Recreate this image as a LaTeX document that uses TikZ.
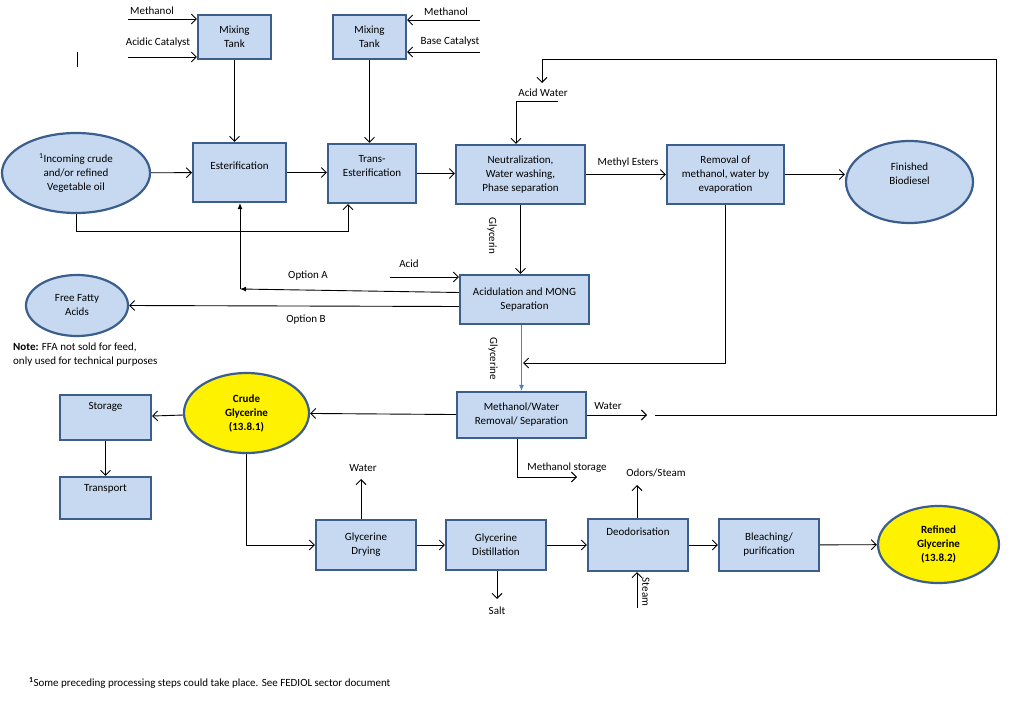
\documentclass[tikz,border=0pt]{standalone}
\usepackage{fontspec}
\setmainfont{Carlito}
\usetikzlibrary{arrows.meta, positioning, shapes.geometric}
\definecolor{boxfill}{HTML}{C6D9F1}
\definecolor{boxline}{HTML}{3B5E8C}
\definecolor{glyblue}{HTML}{4F81BD}

\begin{document}
\begin{tikzpicture}[
    x=1pt, y=-1pt,
    font=\fontsize{11}{14}\selectfont,
    box/.style={
      rectangle, draw=boxline, fill=boxfill,
      line width=2.2pt, align=center, inner sep=2pt
    },
    oval/.style={
      ellipse, draw=boxline, fill=boxfill,
      line width=2.2pt, align=center, inner sep=0pt
    },
    product/.style={oval, fill=yellow, font=\fontsize{11}{14}\selectfont\bfseries},
    lbl/.style={align=center, inner sep=1pt},
    flow/.style={line width=0.9pt, -{Straight Barb[length=5pt,width=10pt]}},
    plain/.style={line width=0.9pt},
    opt/.style={line width=0.9pt, -{Latex[length=6pt,width=5pt]}},
    gly/.style={line width=0.9pt, draw=glyblue, -{Latex[length=6pt,width=5pt]}}
  ]
    \fill[white] (0,0) rectangle (1024,703);
    \useasboundingbox (0,0) rectangle (1024,703);

    % mixing tanks
    \node[box, minimum width=73pt, minimum height=44pt] (mix1) at (234.5,37) {Mixing\\Tank};
    \node[box, minimum width=73pt, minimum height=44pt] (mix2) at (369.5,37) {Mixing\\Tank};

    % biodiesel line
    \node[oval, minimum width=148pt, minimum height=80pt] (oil) at (76,173) {\textsuperscript{1}Incoming crude\\and/or refined\\Vegetable oil};
    \node[box, minimum width=93pt, minimum height=59pt] (ester) at (239.5,172.5) {};
    \node[lbl] (ester-t) at (239.5,166) {Esterification};
    \node[box, minimum width=88pt, minimum height=59pt] (trans) at (372,173.5) {};
    \node[lbl] (trans-t) at (372,166) {Trans-\\Esterification};
    \node[box, minimum width=129pt, minimum height=59pt] (neut) at (520.5,174.5) {Neutralization,\\Water washing,\\Phase separation};
    \node[box, minimum width=117pt, minimum height=59pt] (evap) at (725.5,174.5) {Removal of\\methanol, water by\\evaporation};
    \node[oval, minimum width=127pt, minimum height=82pt] (diesel) at (909.5,182) {};
    \node[lbl] (diesel-t) at (909.5,173.5) {Finished\\Biodiesel};

    % glycerine side
    \node[box, minimum width=129pt, minimum height=49pt] (acidul) at (524.5,299.5) {Acidulation and MONG\\Separation};
    \node[oval, minimum width=102pt, minimum height=61pt] (ffa) at (77,305.5) {Free Fatty\\Acids};
    \node[box, minimum width=129pt, minimum height=46pt] (mwr) at (521.5,415) {Methanol/Water\\Removal/ Separation};
    \node[product, minimum width=125pt, minimum height=80pt] (crude) at (246.5,413) {Crude\\Glycerine\\(13.8.1)};
    \node[box, minimum width=91pt, minimum height=45pt] (store) at (105.5,417.5) {};
    \node[lbl] (store-t) at (105.5,407) {Storage};
    \node[box, minimum width=91pt, minimum height=42pt] (tport) at (105.5,498) {};
    \node[lbl] (tport-t) at (105.5,489) {Transport};

    % refining line
    \node[box, minimum width=100pt, minimum height=50pt] (dry) at (366,545) {Glycerine\\Drying};
    \node[box, minimum width=100pt, minimum height=50pt] (distil) at (496,545) {Glycerine\\Distillation};
    \node[box, minimum width=100pt, minimum height=52pt] (deod) at (638,545) {};
    \node[lbl] (deod-t) at (638,532) {Deodorisation};
    \node[box, minimum width=100pt, minimum height=52pt] (bleach) at (769,545) {Bleaching/\\purification};
    \node[product, minimum width=121pt, minimum height=77pt] (refined) at (938.5,544.5) {Refined\\Glycerine\\(13.8.2)};

    % feeds to the mixing tanks
    \coordinate (meth1) at (128,19);
    \coordinate (cat1)  at (128,57);
    \coordinate (meth2) at (480,20);
    \coordinate (cat2)  at (480,52);
    \draw[flow] (meth1) -- (meth1 -| mix1.west);
    \draw[flow] (cat1)  -- (cat1 -| mix1.west);
    \draw[flow] (meth2) -- (meth2 -| mix2.east);
    \draw[flow] (cat2)  -- (cat2 -| mix2.east);
    \node[lbl] (meth1-l) at (152,11) {Methanol};
    \node[lbl] (cat1-l)  at (158,43) {Acidic Catalyst};
    \node[lbl] (meth2-l) at (446,12) {Methanol};
    \node[lbl] (cat2-l)  at (450,42) {Base Catalyst};
    \draw[plain] (77,52) -- (77,67);

    \draw[flow] (mix1.south) -- (mix1.south |- ester.north);
    \draw[flow] (mix2.south) -- (mix2.south |- trans.north);

    % main flow
    \draw[flow] (oil) -- (ester);
    \draw[flow] (ester.east) -- (ester.east -| trans.west);
    \draw[flow] (trans.east) -- (trans.east -| neut.west);
    \draw[flow] (neut.east) -- (neut.east -| evap.west);
    \node[lbl] (me-l) at (628,163) {Methyl Esters};
    \draw[flow] (evap.east) -- (evap.east -| diesel.west);
    \coordinate (oilret) at (348,231);
    \draw[flow] (oil.south) |- (oilret) -- (oilret |- trans.south);

    % acid water loop
    \coordinate (wout) at (647,415);
    \coordinate (wret) at (655,415);
    \coordinate (wtop) at (996,59);
    \coordinate (awtip) at (542,83);
    \draw[flow] (mwr.east) -- (wout);
    \node[lbl] (w-l) at (608,406) {Water};
    \draw[flow] (wret) -| (wtop) -| (awtip);
    \node[lbl] (aw-l) at (543,93) {Acid Water};
    \coordinate (awr) at (558,101);
    \coordinate (awd) at (516,101);
    \draw[flow] (awr) -- (awd) -- (awd |- neut.north);

    % glycerine phase
    \draw[flow] (neut.south) -- (neut.south |- acidul.north);
    \node[lbl, rotate=-90] (gn-l) at (492,236) {Glycerin};
    \coordinate (acidin) at (390,277);
    \draw[flow] (acidin) -- (acidin -| acidul.west);
    \node[lbl] (acid-l) at (409,264) {Acid};
    \coordinate (optA) at (240,289);
    \draw[opt] ([yshift=7pt]acidul.west) -- (optA);
    \draw[opt] (optA) -- (optA |- ester.south);
    \node[lbl] (optA-l) at (308,276) {Option A};
    \draw[flow] ([yshift=-7pt]acidul.west) -- (ffa.east);
    \node[lbl] (optB-l) at (306,320) {Option B};
    \node[lbl, anchor=west, align=left] (note) at (12,354.5) {\textbf{Note:} FFA not sold for feed,\\only used for technical purposes};

    \draw[gly] (mwr.north |- acidul.south) -- (mwr.north);
    \node[lbl, rotate=-90] (gl-l) at (493,359) {Glycerine};
    \coordinate (mret) at (523,363);
    \draw[flow] (evap.south) |- (mret);

    % crude glycerine
    \draw[flow] (mwr) -- (crude);
    \coordinate (mst) at (577,477);
    \draw[flow] ([xshift=-4pt]mwr.south) |- (mst);
    \node[lbl] (mst-l) at (567,468) {Methanol storage};
    \draw[flow] (crude) -- (store);
    \draw[flow] (store.south) -- (store.south |- tport.north);
    \draw[flow] (crude.south) |- (dry.west);

    % refining
    \draw[flow] (dry) -- (distil);
    \draw[flow] (distil) -- (deod);
    \draw[flow] (deod) -- (bleach);
    \draw[flow] (bleach) -- (refined);
    \coordinate (dw) at (361,479);
    \draw[flow] (dw |- dry.north) -- (dw);
    \node[lbl] (dw-l) at (363,468) {Water};
    \coordinate (salt) at (497,599);
    \draw[flow] (salt |- distil.south) -- (salt);
    \node[lbl] (salt-l) at (497,611) {Salt};
    \coordinate (odor) at (637,485);
    \draw[flow] (odor |- deod.north) -- (odor);
    \node[lbl] (odor-l) at (656,473) {Odors/Steam};
    \coordinate (steam) at (637,608);
    \draw[flow] (steam) -- (steam |- deod.south);
    \node[lbl, rotate=-90] (steam-l) at (646,592) {Steam};

    \node[lbl, anchor=west] (foot) at (28,683) {\textsuperscript{\textbf{1}}Some preceding processing steps could take place. See FEDIOL sector document};
  \end{tikzpicture}
\end{document}
